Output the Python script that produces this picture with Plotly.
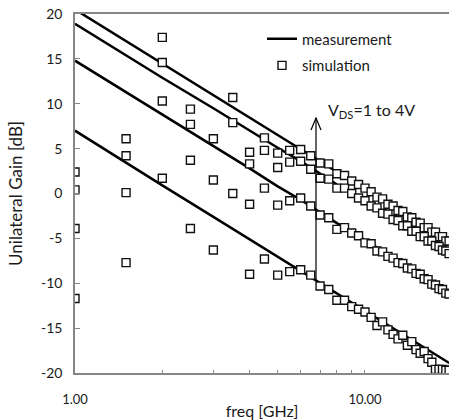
import plotly.graph_objects as go

# Measurement curves (frequency in GHz, unilateral gain in dB)
meas_freq = [1.0, 1.5, 2.0, 3.0, 4.0, 5.0, 6.0, 7.0, 8.0, 10.0, 12.0, 14.0, 16.0, 18.0, 20.0]
meas_1 = [20.5, 17.0, 14.5, 11.0, 8.5, 6.6, 5.0, 3.6, 2.4, 0.5, -1.1, -2.4, -3.6, -4.6, -5.5]
meas_2 = [18.9, 15.4, 12.9, 9.5, 7.0, 5.1, 3.6, 2.2, 1.0, -0.9, -2.4, -3.8, -4.9, -5.9, -6.8]
meas_3 = [14.8, 11.3, 8.8, 5.3, 2.8, 0.8, -0.7, -2.1, -3.3, -5.2, -6.8, -8.1, -9.3, -10.3, -11.2]
meas_4 = [7.0, 3.4, 0.9, -2.6, -5.1, -7.0, -8.6, -9.9, -11.1, -13.0, -14.6, -16.0, -17.1, -18.2, -19.1]

# Simulation points
sim_freq = [1.0, 1.5, 2.0, 2.5, 3.0, 3.5, 4.0, 4.5, 5.0, 5.5, 6.0, 6.5, 7.0, 7.5,
            8.0, 8.5, 9.0, 9.5, 10.0, 10.5, 11.0, 11.5, 12.0, 12.5, 13.0, 13.5,
            14.0, 14.5, 15.0, 15.5, 16.0, 16.5, 17.0, 17.5, 18.0, 18.5, 19.0, 19.5]
sim_1 = [2.4, 6.1, 17.4, 9.4, 6.1, 10.7, 4.6, 6.2, 4.5, 4.8, 4.9, 4.2, 3.4, 3.3,
         2.2, 2.0, 1.4, 1.0, 0.6, 0.2, -0.4, -0.6, -1.2, -1.4, -1.9, -2.0,
         -2.6, -2.7, -3.2, -3.3, -3.8, -3.8, -4.3, -4.3, -4.8, -4.8, -5.3, -5.3]
sim_2 = [0.4, 4.2, 14.6, 7.7, 1.5, 7.9, 3.3, 4.8, 2.9, 3.5, 3.6, 2.7, 1.7, 1.6,
         0.6, 0.6, 0.0, -0.5, -0.8, -1.4, -1.6, -2.2, -2.3, -2.9, -3.0, -3.6,
         -3.6, -4.2, -4.2, -4.8, -4.8, -5.3, -5.3, -5.8, -5.9, -6.3, -6.4, -6.7]
sim_3 = [-3.9, 0.1, 10.3, 3.7, -6.3, 0.0, -1.2, 0.6, -1.3, -0.8, -0.5, -1.4, -2.4, -2.7,
         -4.0, -3.8, -4.4, -4.7, -5.5, -5.6, -6.4, -6.5, -7.0, -7.2, -7.7, -7.8,
         -8.3, -8.4, -8.9, -9.0, -9.5, -9.6, -10.1, -10.2, -10.6, -10.7, -11.1, -11.2]
sim_4 = [-11.7, -7.7, 1.7, -3.9, None, None, -9.0, -7.3, -9.1, -8.7, -8.5, -9.1, -10.3, -10.7,
         -11.9, -11.9, -12.6, -12.9, -13.2, -13.8, -14.7, -14.3, -15.2, -15.7, -16.2, -15.8,
         -16.9, -16.5, -17.4, -17.8, -17.6, -18.4, -18.8, -19.6, -19.6, -19.6, -19.7, -19.7]

x_tick_vals = [1, 10]
x_tick_text = ["1.00", "10.00"]
x_minor_vals = [2, 3, 4, 5, 6, 7, 8, 9, 20]
y_tick_vals = [-20, -15, -10, -5, 0, 5, 10, 15, 20]
y_tick_text = ["-20", "-15", "-10", "-5", "0", "5", "10", "15", "20"]

FONT = "Lato"
AXC = "#868686"
TXT = "#1a1a1a"

fig = go.Figure()
for i, m in enumerate([meas_1, meas_2, meas_3, meas_4]):
    fig.add_trace(go.Scatter(
        x=meas_freq, y=m, mode="lines", name="measurement",
        line=dict(color="black", width=2.5),
        showlegend=(i == 0), legendgroup="meas"))
for i, s in enumerate([sim_1, sim_2, sim_3, sim_4]):
    fig.add_trace(go.Scatter(
        x=sim_freq, y=s, mode="markers", name="simulation",
        marker=dict(symbol="square", size=8, color="white",
                    line=dict(color="#111111", width=1.4)),
        showlegend=(i == 0), legendgroup="sim"))

fig.update_layout(
    width=449, height=420,
    margin=dict(l=75, r=0, t=14, b=47),
    paper_bgcolor="white", plot_bgcolor="white",
    font=dict(family=FONT, color=TXT, size=13),
    legend=dict(x=0.5, y=0.976, xanchor="left", yanchor="top",
                font=dict(family=FONT, size=15, color=TXT),
                bgcolor="rgba(0,0,0,0)", tracegroupgap=4,
                traceorder="grouped"),
    xaxis=dict(type="log", range=[0, 1.2897],
               showline=True, linecolor=AXC, linewidth=1.5, mirror=True,
               showgrid=False, zeroline=False,
               ticks="inside", ticklen=3, tickcolor=AXC, tickwidth=1,
               tickvals=x_tick_vals, ticktext=x_tick_text,
               tickfont=dict(family=FONT, size=13, color=TXT),
               ticklabelstandoff=14,
               minor=dict(tickvals=x_minor_vals, ticks="inside", ticklen=3,
                          tickcolor=AXC, tickwidth=1, showgrid=False),
               title=dict(text="freq [GHz]", font=dict(family=FONT, size=16, color=TXT),
                          standoff=2)),
    yaxis=dict(range=[-20, 20],
               showline=True, linecolor=AXC, linewidth=1.5, mirror=False,
               showgrid=False, zeroline=False,
               ticks="inside", ticklen=5, tickcolor=AXC, tickwidth=1,
               tickvals=y_tick_vals, ticktext=y_tick_text,
               tickfont=dict(family=FONT, size=14, color=TXT),
               ticklabelstandoff=8,
               title=dict(text="Unilateral Gain [dB]",
                          font=dict(family=FONT, size=17, color=TXT),
                          standoff=14)),
)

# V_DS arrow (drawn in plot-area fractions)
fig.add_shape(type="line", xref="paper", yref="paper",
              x0=0.6444, x1=0.6444, y0=0.259, y1=0.7103,
              line=dict(color="black", width=1.2))
fig.add_shape(type="path", xref="paper", yref="paper",
              path="M 0.631 0.6769 L 0.6444 0.7103 L 0.6578 0.6769",
              line=dict(color="black", width=1.2))
fig.add_annotation(x=0.671, y=0.73, xref="paper", yref="paper",
                   xanchor="left", yanchor="middle", showarrow=False,
                   text="V<sub>DS</sub>=1 to 4V",
                   font=dict(family=FONT, size=16, color=TXT))

fig.write_html("out.html")
